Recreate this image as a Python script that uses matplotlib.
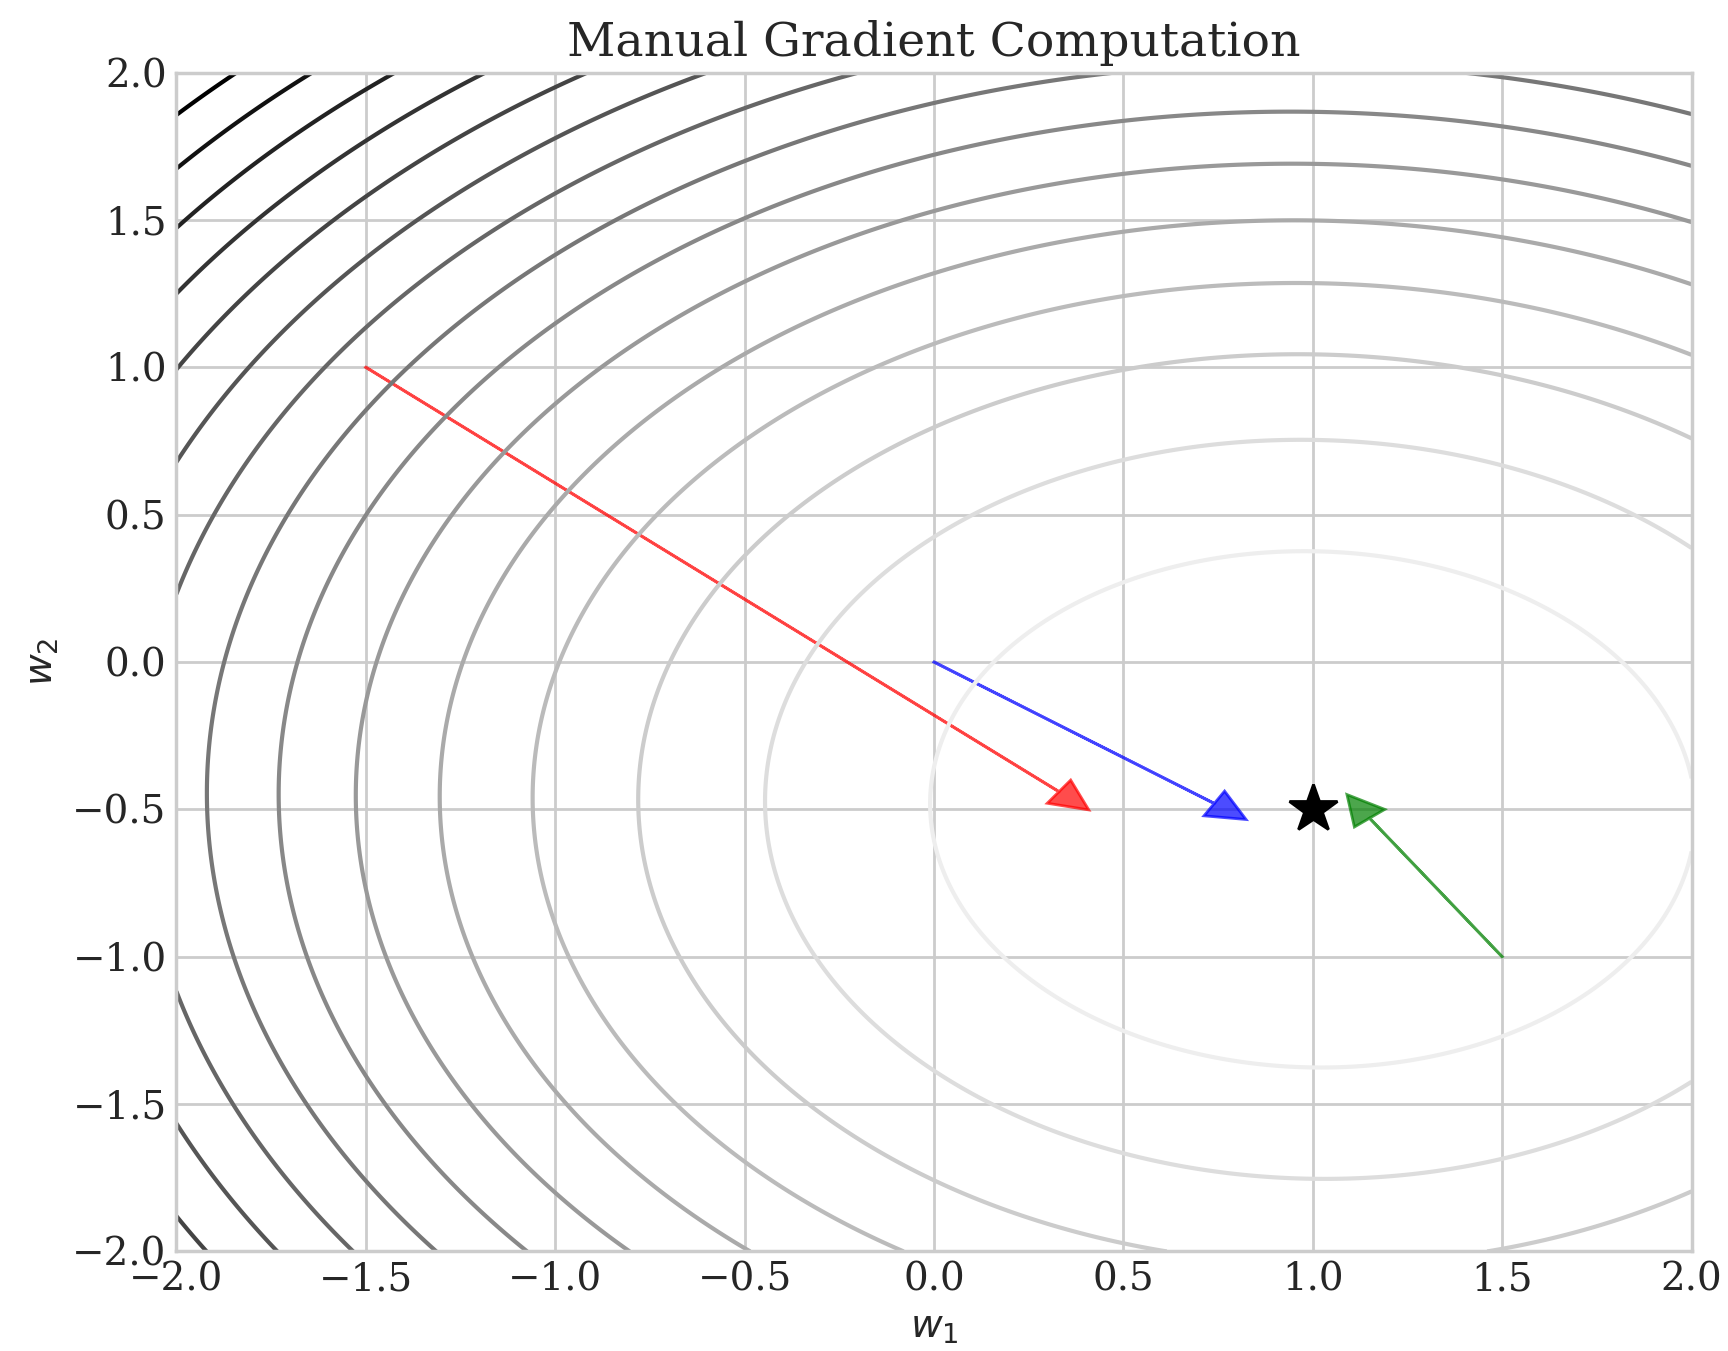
import numpy as np
import matplotlib
matplotlib.use("Agg")
import matplotlib.pyplot as plt
from matplotlib.colors import Normalize

# ---- data ----
minimum = [1.0, -0.5]                 # location of the optimum (star)
quad_a, quad_c, quad_b = 1.0, 0.025, 1.33   # f = a*u^2 + 2c*u*v + b*v^2
contour_levels = [1.02, 2.09, 3.17, 4.24, 5.31, 6.38, 7.45, 8.52,
                  9.60, 10.67, 11.74, 12.81, 13.88, 14.96, 16.03]
color_vmin, color_vmax = -0.05, 16.03

arrow_x0 = [-1.5, 0.0, 1.5]
arrow_y0 = [1.0, 0.0, -1.0]
arrow_dx = [1.83, 0.74, -0.35]
arrow_dy = [-1.44, -0.48, 0.47]
arrow_colors = ["red", "blue", "green"]

xticks = [-2.0, -1.5, -1.0, -0.5, 0.0, 0.5, 1.0, 1.5, 2.0]
yticks = [-2.0, -1.5, -1.0, -0.5, 0.0, 0.5, 1.0, 1.5, 2.0]

# ---- style ----
plt.style.use("seaborn-v0_8-whitegrid")
plt.rcParams["font.family"] = ["DejaVu Serif"]

fig = plt.figure(figsize=(8.64, 6.755), dpi=200)
ax = fig.add_axes([0.1021, 0.0737, 0.8768, 0.8726])

g1 = np.linspace(-2, 2, 500)
g2 = np.linspace(-2, 2, 500)
W1, W2 = np.meshgrid(g1, g2)
U = W1 - minimum[0]
V = W2 - minimum[1]
Z = quad_a * U**2 + 2 * quad_c * U * V + quad_b * V**2

ax.contour(W1, W2, Z, levels=contour_levels, cmap="gray_r",
           norm=Normalize(vmin=color_vmin, vmax=color_vmax),
           linewidths=1.5, zorder=2)

for x0, y0, dx, dy, c in zip(arrow_x0, arrow_y0, arrow_dx, arrow_dy, arrow_colors):
    ax.arrow(x0, y0, dx, dy, head_width=0.1, head_length=0.1,
             fc=c, ec=c, alpha=0.7, zorder=1)

ax.plot([minimum[0]], [minimum[1]], marker="*", color="black",
        markersize=18, linestyle="none", zorder=3)

ax.set_xlim(-2, 2)
ax.set_ylim(-2, 2)
ax.set_xticks(xticks)
ax.set_yticks(yticks)
ax.tick_params(labelsize=14, length=0)
ax.set_xlabel("$w_1$", fontsize=14, labelpad=4)
ax.set_ylabel("$w_2$", fontsize=14, labelpad=4)
ax.set_title("Manual Gradient Computation", fontsize=17)
for s in ax.spines.values():
    s.set_color("0.8")
    s.set_linewidth(1.25)
ax.grid(True, color="0.8", linewidth=1.0)

fig.savefig("out.png", dpi=200)
